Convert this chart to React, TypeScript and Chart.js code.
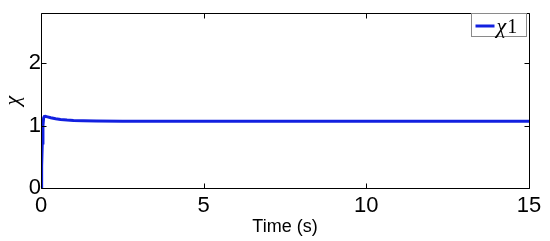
import React, { useEffect, useRef } from 'react';
import { Chart, registerables } from 'chart.js';

Chart.register(...registerables);

// Time axis samples (s)
const timeValues = [0, 0.02, 0.04, 0.06, 0.08, 0.1, 0.13, 0.2, 0.3, 0.45, 0.6, 0.8, 1.0, 1.3, 1.7, 2.5, 4, 6, 8, 10, 12, 15];
// chi_1 response
const chi1Values = [0, 0.35, 0.72, 1.0, 1.12, 1.145, 1.15, 1.14, 1.125, 1.108, 1.097, 1.088, 1.082, 1.077, 1.073, 1.071, 1.07, 1.07, 1.07, 1.07, 1.07, 1.07];
const xTickValues = [0, 5, 10, 15];
const yTickValues = [0, 1, 2];
const xRange = [0, 15];
const yRange = [0, 2.8];
const seriesLabel = 'χ1';
const xTitle = 'Time (s)';
const yTitle = 'χ';

const LINE_COLOR = '#1220e0';

const framePlugin = {
  id: 'frameTicks',
  afterDraw(chart: any) {
    const { ctx, chartArea, scales } = chart;
    const { left, right, top, bottom } = chartArea;
    ctx.save();
    ctx.strokeStyle = '#000';
    ctx.lineWidth = 1;
    const L = Math.round(left) + 0.5;
    const R = Math.round(right) + 0.5;
    const T = Math.round(top) + 0.5;
    const B = Math.round(bottom) + 0.5;
    ctx.beginPath();
    ctx.rect(L, T, R - L, B - T);
    ctx.stroke();
    const tl = 5;
    ctx.beginPath();
    xTickValues.forEach((v) => {
      const px = Math.round(scales.x.getPixelForValue(v)) + 0.5;
      ctx.moveTo(px, B);
      ctx.lineTo(px, B - tl);
      ctx.moveTo(px, T);
      ctx.lineTo(px, T + tl);
    });
    yTickValues.forEach((v) => {
      const py = Math.round(scales.y.getPixelForValue(v)) + 0.5;
      ctx.moveTo(L, py);
      ctx.lineTo(L + tl, py);
      ctx.moveTo(R, py);
      ctx.lineTo(R - tl, py);
    });
    ctx.stroke();

    // legend box (top-right inside the axes)
    const bw = 55;
    const bh = 23;
    const bx = Math.round(right) - 2.5 - bw;
    const by = Math.round(top) + 0.5;
    ctx.fillStyle = '#fff';
    ctx.fillRect(bx, by, bw, bh);
    ctx.strokeStyle = '#8a8a8a';
    ctx.strokeRect(bx, by, bw, bh);
    const ds = chart.data.datasets[0];
    ctx.strokeStyle = ds.borderColor;
    ctx.lineWidth = 3;
    ctx.beginPath();
    ctx.moveTo(bx + 4, by + 12.5);
    ctx.lineTo(bx + 23, by + 12.5);
    ctx.stroke();
    ctx.fillStyle = '#000';
    ctx.textBaseline = 'alphabetic';
    ctx.textAlign = 'left';
    const label: string = ds.label;
    ctx.font = 'italic 22px "Liberation Serif", serif';
    const g = label.slice(0, 1);
    ctx.fillText(g, bx + 25, by + 19.5);
    const gw = ctx.measureText(g).width;
    ctx.font = '20px "Liberation Serif", serif';
    ctx.fillText(label.slice(1), bx + 25 + gw + 1, by + 19.5);
    ctx.restore();
  },
};

export default function App() {
  const ref = useRef<HTMLCanvasElement | null>(null);
  useEffect(() => {
    if (!ref.current) return;
    const chart = new Chart(ref.current, {
      type: 'line',
      data: {
        datasets: [
          {
            label: seriesLabel,
            data: timeValues.map((t, i) => ({ x: t, y: chi1Values[i] })),
            borderColor: LINE_COLOR,
            backgroundColor: LINE_COLOR,
            borderWidth: 3,
            pointRadius: 0,
            tension: 0,
            fill: false,
          },
        ],
      },
      options: {
        animation: false,
        responsive: false,
        maintainAspectRatio: false,
        devicePixelRatio: 1,
        layout: { padding: { left: 0, right: 21, top: 8, bottom: 0 } },
        plugins: {
          legend: { display: false },
          tooltip: { enabled: false },
        },
        scales: {
          x: {
            type: 'linear',
            min: xRange[0],
            max: xRange[1],
            afterBuildTicks: (s: any) => {
              s.ticks = xTickValues.map((v) => ({ value: v }));
            },
            afterFit: (s: any) => {
              s.height = 53;
            },
            grid: { display: false, drawTicks: false },
            border: { display: false },
            ticks: {
              font: { family: '"Liberation Sans", Arial, sans-serif', size: 22 },
              color: '#000',
              padding: 5,
              maxRotation: 0,
              autoSkip: false,
            },
            title: {
              display: true,
              text: xTitle,
              font: { family: '"Liberation Sans", Arial, sans-serif', size: 18 },
              color: '#000',
              padding: { top: 0, bottom: 3 },
            },
          },
          y: {
            type: 'linear',
            min: yRange[0],
            max: yRange[1],
            afterBuildTicks: (s: any) => {
              s.ticks = yTickValues.map((v) => ({ value: v }));
            },
            afterFit: (s: any) => {
              s.width = 41;
            },
            grid: { display: false, drawTicks: false },
            border: { display: false },
            ticks: {
              font: { family: '"Liberation Sans", Arial, sans-serif', size: 22 },
              color: '#000',
              padding: 0,
              autoSkip: false,
            },
            title: {
              display: true,
              text: yTitle,
              font: { family: '"Liberation Serif", serif', size: 22, style: 'italic' },
              color: '#000',
              padding: { top: 0, bottom: 0 },
            },
          },
        },
      },
      plugins: [framePlugin],
    });
    return () => chart.destroy();
  }, []);
  return (
    <div style={{ position: 'absolute', left: 0, top: 0, width: 550, height: 241, background: '#fff' }}>
      <canvas ref={ref} width={550} height={241} style={{ width: 550, height: 241 }} />
    </div>
  );
}
